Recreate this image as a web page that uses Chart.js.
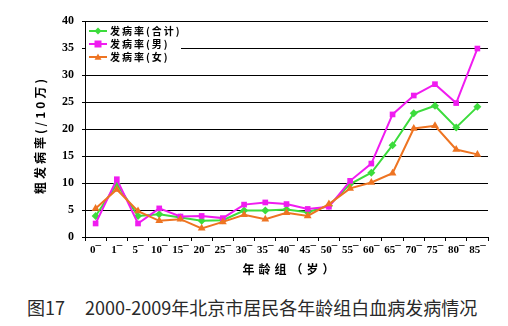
<!DOCTYPE html>
<html>
<head>
<meta charset="utf-8">
<script src="https://cdn.jsdelivr.net/npm/chart.js@4/dist/chart.umd.min.js"></script>
<style>
html,body{margin:0;padding:0;background:#fff;width:508px;height:326px;overflow:hidden;}
#wrap{position:absolute;left:0;top:0;width:508px;height:285px;}
#cap{position:absolute;left:27px;top:298px;font-family:"Noto Sans CJK SC","Noto Sans",sans-serif;font-size:18px;line-height:18px;color:#2a2a2a;white-space:nowrap;}
#cap .sp{display:inline-block;width:20px;}
</style>
</head>
<body>
<div id="wrap"><canvas id="c" width="508" height="285"></canvas></div>
<div id="cap">图17<span class="sp"></span>2000-2009年北京市居民各年龄组白血病发病情况</div>
<script>
const categories = ["0¯","1¯","5¯","10¯","15¯","20¯","25¯","30¯","35¯","40¯","45¯","50¯","55¯","60¯","65¯","70¯","75¯","80¯","85¯"];
const seriesNames = ["发病率(合计)","发病率(男)","发病率(女)"];
const totalRate = [3.9, 9.8, 3.9, 4.2, 3.6, 3.0, 3.1, 4.9, 4.9, 5.1, 4.6, 5.8, 9.8, 11.9, 17.0, 22.9, 24.3, 20.3, 24.1];
const maleRate = [2.5, 10.7, 2.5, 5.3, 3.8, 3.9, 3.5, 6.0, 6.4, 6.1, 5.2, 5.6, 10.4, 13.6, 22.7, 26.2, 28.3, 24.8, 34.9];
const femaleRate = [5.3, 8.8, 4.8, 3.0, 3.3, 1.6, 2.8, 4.1, 3.3, 4.5, 3.9, 6.1, 9.0, 10.1, 11.8, 20.1, 20.6, 16.2, 15.3];
const yTicks = [0,5,10,15,20,25,30,35,40];
const yTitle = "粗发病率(/10万)";
const xTitle = "年龄组（岁）";

const colors = ["#3cdc3c","#f01cf0","#ee7422"];
const styles = ["rectRot","rect","triangle"];
const radii = [4,4,4.5];

function drawMarker(ctx, style, x, y, r, color){
  ctx.save();
  ctx.fillStyle = color;
  ctx.beginPath();
  if(style==="rect"){
    ctx.rect(x-r, y-r, 2*r, 2*r);
  } else if(style==="rectRot"){
    ctx.moveTo(x, y-r); ctx.lineTo(x+r, y); ctx.lineTo(x, y+r); ctx.lineTo(x-r, y);
    ctx.closePath();
  } else {
    ctx.moveTo(x, y-r); ctx.lineTo(x+r, y+r*0.75); ctx.lineTo(x-r, y+r*0.75);
    ctx.closePath();
  }
  ctx.fill();
  ctx.restore();
}

const legendPlugin = {
  id: 'insideLegend',
  afterDraw(chart){
    const ctx = chart.ctx;
    const a = chart.chartArea;
    ctx.save();
    ctx.fillStyle = '#fff';
    ctx.fillRect(a.left+1, a.top+2, 95, 49);
    const ds = chart.data.datasets;
    ctx.font = 'bold 10px "Noto Sans CJK SC", sans-serif';
    ctx.textBaseline = 'middle';
    if ('letterSpacing' in ctx) ctx.letterSpacing = '2px';
    for(let i=0;i<ds.length;i++){
      const y = a.top + 10 + i*13;
      const x0 = a.left + 4;
      ctx.strokeStyle = ds[i].borderColor;
      ctx.lineWidth = 2;
      ctx.beginPath(); ctx.moveTo(x0, y); ctx.lineTo(x0+18, y); ctx.stroke();
      drawMarker(ctx, ds[i].pointStyle, x0+9, y, 3.5, ds[i].borderColor);
      ctx.fillStyle = '#000';
      ctx.fillText(ds[i].label, x0+21, y);
    }
    if ('letterSpacing' in ctx) ctx.letterSpacing = '0px';
    ctx.restore();
  }
};

function spacedTitle(s, spacing, dx, dy){
  if (s._wrapped) return;
  s._wrapped = true;
  const orig = s.drawTitle;
  s.drawTitle = function(){
    const ctx = this.ctx;
    ctx.save();
    ctx.translate(dx, dy);
    if ('letterSpacing' in ctx) ctx.letterSpacing = spacing;
    orig.apply(this, arguments);
    if ('letterSpacing' in ctx) ctx.letterSpacing = '0px';
    ctx.restore();
  };
}

function mk(i, data, order){
  return {
    label: seriesNames[i], data: data, order: order,
    borderColor: colors[i], backgroundColor: colors[i],
    pointStyle: styles[i], pointRadius: radii[i], pointHoverRadius: radii[i],
    pointBorderWidth: 0, borderWidth: 2, tension: 0, fill: false
  };
}

new Chart(document.getElementById('c'), {
  type: 'line',
  data: {
    labels: categories,
    datasets: [mk(0,totalRate,2), mk(1,maleRate,1), mk(2,femaleRate,0)]
  },
  options: {
    responsive: false, animation: false, devicePixelRatio: 1,
    layout: { padding: { top: 21, right: 20, left: 0, bottom: 0 } },
    plugins: { legend: { display: false }, tooltip: { enabled: false } },
    scales: {
      x: {
        offset: true,
        grid: { display: true, drawOnChartArea: false, offset: true, color: '#000', tickLength: 4, tickColor:'#000' },
        border: { display: true, color: '#000', width: 1 },
        ticks: { color: '#000', font: { family: '"Liberation Serif", serif', size: 11, weight: 'bold' }, padding: 3, maxRotation: 0, autoSkip: false },
        title: { display: true, text: xTitle, color: '#000', font: { family: '"Noto Sans CJK SC", sans-serif', size: 12, weight: 'bold' }, padding: { top: 0, bottom: 8 } },
        afterFit(s){ s.height = 48; spacedTitle(s, '4px', 4, 0); }
      },
      y: {
        min: 0, max: 40,
        afterBuildTicks(s){ s.ticks = yTicks.map(v => ({value: v})); },
        grid: { color: '#000', lineWidth: 1, tickLength: 3, tickColor: '#000' },
        border: { display: true, color: '#000', width: 1 },
        ticks: { color: '#000', font: { family: '"Liberation Serif", serif', size: 12, weight: 'bold' }, padding: 8 },
        title: { display: true, text: yTitle, color: '#000', font: { family: '"Noto Sans CJK SC", sans-serif', size: 12, weight: 'bold' }, padding: { top: 33, bottom: 0 } },
        afterFit(s){ s.width = 85; spacedTitle(s, '3px', 0, 6); }
      }
    }
  },
  plugins: [legendPlugin]
});
</script>
</body>
</html>
